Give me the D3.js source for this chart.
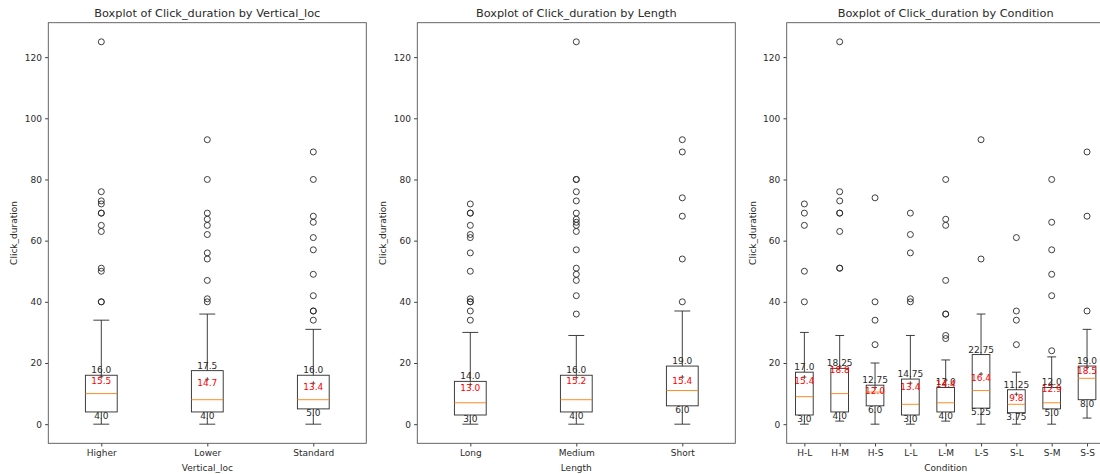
<!DOCTYPE html>
<html>
<head>
<meta charset="utf-8">
<script src="https://cdn.jsdelivr.net/npm/d3@7"></script>
<style>
  body { margin: 0; background: #fff; }
  text { font-family: "DejaVu Sans", sans-serif; }
</style>
</head>
<body>
<div id="chart"></div>
<script>
// PLOT DEFAULTS
const SVG_WIDTH = 1100;
const SVG_HEIGHT = 474;
const PANEL_LEFTS = [48.3, 417.3, 786.7];
const PANEL_WIDTH = 318;
const PANEL_TOP = 22.7;
const PANEL_BOTTOM = 443.3;
const FONT_TICK = 9;
const FONT_TITLE = 11.3;
const LINE_W = 0.9;
const INK = '#2a2a2a';

// DATA: Vertical_loc
const vlocCats = ["Higher", "Lower", "Standard"];
const vlocLo = [0, 0, 0];
const vlocQ1 = [4, 4, 5];
const vlocMed = [10, 8, 8];
const vlocQ3 = [16, 17.5, 16];
const vlocHi = [34, 36, 31];
const vlocMean = [15.5, 14.7, 13.4];
const vlocOut = [
  [40, 40, 50, 51, 63, 65, 69, 69, 72, 73, 76, 125],
  [40, 41, 47, 54, 56, 62, 65, 67, 69, 80, 93],
  [34, 37, 37, 42, 49, 57, 61, 66, 68, 80, 89]
];

// DATA: Length
const lenCats = ["Long", "Medium", "Short"];
const lenLo = [0, 0, 0];
const lenQ1 = [3, 4, 6];
const lenMed = [7, 8, 11];
const lenQ3 = [14, 16, 19];
const lenHi = [30, 29, 37];
const lenMean = [13.0, 15.2, 15.4];
const lenOut = [
  [34, 37, 40, 40, 41, 50, 56, 61, 62, 65, 69, 69, 72],
  [36, 42, 47, 49, 51, 57, 63, 65, 66, 67, 69, 73, 76, 80, 80, 125],
  [40, 54, 68, 74, 89, 93]
];

// DATA: Condition
const condCats = ["H-L", "H-M", "H-S", "L-L", "L-M", "L-S", "S-L", "S-M", "S-S"];
const condLo = [0, 1, 0, 0, 1, 0, 0, 0, 2];
const condQ1 = [3, 4, 6, 3, 4, 5.25, 3.75, 5, 8];
const condMed = [9, 10, 10.5, 6.5, 7, 11, 6.5, 7, 15];
const condQ3 = [17, 18.25, 12.75, 14.75, 12, 22.75, 11.25, 12, 19];
const condHi = [30, 29, 20, 29, 21, 36, 17, 22, 31];
const condMean = [15.4, 18.8, 12.0, 13.4, 14.4, 16.4, 9.8, 12.9, 18.5];
const condOut = [
  [40, 50, 65, 69, 72],
  [51, 51, 63, 69, 69, 73, 76, 125],
  [26, 34, 40, 74],
  [40, 41, 56, 62, 69],
  [28, 29, 36, 36, 47, 65, 67, 80],
  [54, 93],
  [26, 34, 37, 61],
  [24, 42, 49, 57, 66, 80],
  [37, 68, 89]
];

const yTicks = [0, 20, 40, 60, 80, 100, 120];

const svg = d3.select('#chart')
  .append('svg')
  .attr('width', SVG_WIDTH)
  .attr('height', SVG_HEIGHT);

// shared y scale (matplotlib auto margins around 0..125)
const yScale = d3.scaleLinear()
  .domain([-6.25, 131.25])
  .range([PANEL_BOTTOM, PANEL_TOP]);

// format like python str(float)
function pyFmt (v) {
  return Number.isInteger(v) ? v.toFixed(1) : String(v);
}

function drawPanel (idx, title, xLabel, cats, lo, q1, med, q3, hi, mean, outs) {
  const left = PANEL_LEFTS[idx];
  const g = svg.append('g').attr('transform', `translate(${left},0)`);
  const n = cats.length;

  const xScale = d3.scalePoint()
    .domain(cats)
    .range([0, PANEL_WIDTH])
    .padding(0.5);
  const step = xScale.step();
  const boxW = Math.min(0.5, Math.max(0.15, 0.15 * Math.max(n - 1, 1))) * step;
  const capW = boxW / 2;

  const rows = cats.map((c, i) => ({
    cat: c, lo: lo[i], q1: q1[i], med: med[i], q3: q3[i], hi: hi[i], mean: mean[i], outs: outs[i]
  }));

  // axes
  const yAxis = g.append('g')
    .call(d3.axisLeft(yScale).tickValues(yTicks).tickSize(3.2).tickPadding(3.2).tickSizeOuter(0));
  const xAxis = g.append('g')
    .attr('transform', `translate(0,${PANEL_BOTTOM})`)
    .call(d3.axisBottom(xScale).tickSize(3.2).tickPadding(3.2).tickSizeOuter(0));
  [yAxis, xAxis].forEach(a => {
    a.select('.domain').remove();
    a.selectAll('line').attr('stroke', INK).attr('stroke-width', LINE_W);
    a.selectAll('text').attr('font-family', 'DejaVu Sans').attr('font-size', FONT_TICK).attr('fill', INK);
  });

  const boxes = g.selectAll('g.box')
    .data(rows)
    .join('g')
    .attr('class', 'box')
    .attr('transform', d => `translate(${xScale(d.cat)},0)`);

  // whiskers
  boxes.append('line')
    .attr('x1', 0).attr('x2', 0)
    .attr('y1', d => yScale(d.q3)).attr('y2', d => yScale(d.hi))
    .attr('stroke', INK).attr('stroke-width', LINE_W);
  boxes.append('line')
    .attr('x1', 0).attr('x2', 0)
    .attr('y1', d => yScale(d.q1)).attr('y2', d => yScale(d.lo))
    .attr('stroke', INK).attr('stroke-width', LINE_W);
  // caps
  boxes.selectAll('line.cap')
    .data(d => [d.lo, d.hi])
    .join('line')
    .attr('class', 'cap')
    .attr('x1', -capW / 2).attr('x2', capW / 2)
    .attr('y1', v => yScale(v)).attr('y2', v => yScale(v))
    .attr('stroke', INK).attr('stroke-width', LINE_W);
  // box
  boxes.append('rect')
    .attr('x', -boxW / 2)
    .attr('width', boxW)
    .attr('y', d => yScale(d.q3))
    .attr('height', d => yScale(d.q1) - yScale(d.q3))
    .attr('fill', 'none')
    .attr('stroke', INK).attr('stroke-width', LINE_W);
  // median
  boxes.append('line')
    .attr('x1', -boxW / 2).attr('x2', boxW / 2)
    .attr('y1', d => yScale(d.med)).attr('y2', d => yScale(d.med))
    .attr('stroke', '#ff7f0e').attr('stroke-width', LINE_W);
  // outliers
  boxes.selectAll('circle')
    .data(d => d.outs)
    .join('circle')
    .attr('cx', 0)
    .attr('cy', v => yScale(v))
    .attr('r', 3)
    .attr('fill', 'none')
    .attr('stroke', INK).attr('stroke-width', LINE_W);
  // mean marker (+)
  boxes.append('path')
    .attr('transform', d => `translate(0,${yScale(d.mean)})`)
    .attr('d', 'M-2,0H2M0,-2V2')
    .attr('stroke', INK).attr('stroke-width', 0.8);

  // annotations
  boxes.append('text')
    .attr('y', d => yScale(d.q3) - 2)
    .attr('text-anchor', 'middle')
    .attr('font-size', FONT_TICK)
    .attr('fill', INK)
    .text(d => pyFmt(d.q3));
  boxes.append('text')
    .attr('y', d => yScale(d.q1) + 6.8)
    .attr('text-anchor', 'middle')
    .attr('font-size', FONT_TICK)
    .attr('fill', INK)
    .text(d => pyFmt(d.q1));
  boxes.append('text')
    .attr('y', d => yScale(d.mean) + 6.8)
    .attr('text-anchor', 'middle')
    .attr('font-size', FONT_TICK)
    .attr('fill', 'red')
    .text(d => d.mean.toFixed(1));

  // frame
  g.append('rect')
    .attr('x', 0).attr('y', PANEL_TOP)
    .attr('width', PANEL_WIDTH).attr('height', PANEL_BOTTOM - PANEL_TOP)
    .attr('fill', 'none')
    .attr('stroke', '#555').attr('stroke-width', LINE_W);

  // labels
  g.append('text')
    .attr('x', PANEL_WIDTH / 2).attr('y', 16.5)
    .attr('text-anchor', 'middle')
    .attr('font-size', FONT_TITLE)
    .attr('fill', INK)
    .text(title);
  g.append('text')
    .attr('x', PANEL_WIDTH / 2).attr('y', 471)
    .attr('text-anchor', 'middle')
    .attr('font-size', FONT_TICK)
    .attr('fill', INK)
    .text(xLabel);
  g.append('text')
    .attr('transform', `translate(${-31},${(PANEL_TOP + PANEL_BOTTOM) / 2}) rotate(-90)`)
    .attr('text-anchor', 'middle')
    .attr('font-size', FONT_TICK)
    .attr('fill', INK)
    .text('Click_duration');
}

drawPanel(0, 'Boxplot of Click_duration by Vertical_loc', 'Vertical_loc',
  vlocCats, vlocLo, vlocQ1, vlocMed, vlocQ3, vlocHi, vlocMean, vlocOut);
drawPanel(1, 'Boxplot of Click_duration by Length', 'Length',
  lenCats, lenLo, lenQ1, lenMed, lenQ3, lenHi, lenMean, lenOut);
drawPanel(2, 'Boxplot of Click_duration by Condition', 'Condition',
  condCats, condLo, condQ1, condMed, condQ3, condHi, condMean, condOut);
</script>
</body>
</html>
